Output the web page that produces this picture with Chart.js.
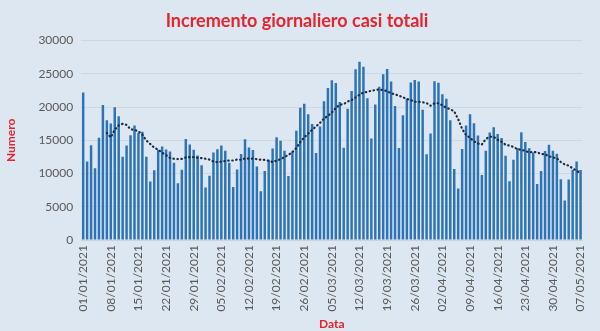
<!DOCTYPE html>
<html>
<head>
<meta charset="utf-8">
<script src="https://cdn.jsdelivr.net/npm/chart.js@4/dist/chart.umd.min.js"></script>
<style>
  html, body { margin: 0; padding: 0; background: #dde7f2; }
  #grafico { display: block; }
</style>
</head>
<body>
<canvas id="grafico" width="600" height="331"></canvas>
<script>
// nuovi casi giornalieri, 01/01/2021 - 07/05/2021
var casiGen = [22211, 11831, 14245, 10800, 15378, 20331, 18020, 17533, 19978, 18627, 12532, 14242, 15774, 17246, 16146, 16310,
  12545, 8824, 10497, 13571, 14078, 13633, 13331, 11629, 8562, 10593, 15204, 14372, 13574, 12715, 11252];
var casiFeb = [7925, 9660, 13189, 13659, 14218, 13442, 11641, 7970, 10630, 12956, 15146, 13908, 13532, 11068, 7351, 10386,
  12074, 13762, 15479, 14931, 13452, 9630, 13314, 16424, 19886, 20499, 18916, 17455];
var casiMar = [13114, 17083, 20884, 22865, 24036, 23641, 20765, 13902, 19749, 22409, 25673, 26824, 26062, 21315, 15267, 20396,
  23059, 24935, 25735, 23832, 20159, 13846, 18765, 21267, 23696, 24076, 23839, 19611, 12916, 16017, 23904];
var casiApr = [23649, 21932, 21261, 18025, 10680, 7767, 13708, 17221, 18938, 17567, 15746, 9789, 13447, 16168, 16974, 15943,
  15370, 12694, 8864, 12074, 13844, 16232, 14761, 13817, 13158, 8444, 10404, 13385, 14320, 13446];
var casiMag = [12965, 9148, 5948, 9116, 10585, 11807, 10554];

// media mobile 7 giorni (linea tratteggiata)
var mediaMobile = [null, null, null, null, null, null, 16117,
  15448, 16612, 17238, 17486, 17323, 16672, 16562, 16364, 15840, 14971, 14441, 13906, 13591, 13139, 12780, 12354, 12223,
  12186, 12200, 12433, 12475, 12466, 12378, 12325, 12234, 12100, 11812, 11711, 11803, 11906, 11962, 11968, 12107, 12074,
  12286, 12242, 12255, 12173, 12084, 12050, 11924, 11726, 11950, 12150, 12491, 12816, 13235, 13856, 14731, 15448, 16017,
  16589, 17087, 17625, 18262, 18688, 19193, 19868, 20341, 20454, 20835, 21052, 21454, 21852, 22198, 22276, 22471, 22564,
  22657, 22551, 22396, 22077, 21912, 21709, 21476, 21220, 21043, 20806, 20807, 20729, 20596, 20203, 20580, 20573, 20267,
  19899, 19672, 19353, 18174, 16717, 15799, 15371, 14844, 14518, 14391, 15202, 15554, 15518, 15091, 14777, 14341, 14209,
  14012, 13680, 13574, 13406, 13184, 13250, 13190, 12951, 12886, 12613, 12425, 12303, 11730, 11374, 11190, 10790, 10431, 10022];

var casi = casiGen.concat(casiFeb, casiMar, casiApr, casiMag);

// etichette date
var date = [];
var giorno = new Date(2021, 0, 1);
for (var i = 0; i < casi.length; i++) {
  var d = new Date(giorno.getTime() + i * 86400000);
  date.push(String(d.getDate()).padStart(2, '0') + '/' + String(d.getMonth() + 1).padStart(2, '0') + '/' + d.getFullYear());
}

var rosso = '#e3262e';
var grigio = '#595959';

var ctx = document.getElementById('grafico');
var myChart = new Chart(ctx,
{
  type: 'bar',
  data:
  {
    labels: date,
    datasets:
    [{
      type: 'line',
      label: 'Media mobile',
      data: mediaMobile,
      borderColor: '#1c2b3f',
      borderWidth: 2.2,
      borderDash: [0.5, 3.5],
      borderCapStyle: 'round',
      pointRadius: 0,
      fill: false,
      tension: 0,
      order: 0
    },
    {
      label: 'Casi',
      data: casi,
      backgroundColor: '#2e74b5',
      barPercentage: 0.7,
      categoryPercentage: 0.9,
      order: 1
    }]
  },
  options:
  {
    responsive: false,
    animation: false,
    layout: { padding: { left: 4, right: 10, top: 4, bottom: 0 } },
    plugins:
    {
      legend: { display: false },
      tooltip: { enabled: false },
      title:
      {
        display: true,
        text: 'Incremento giornaliero casi totali',
        color: rosso,
        font: { family: 'Lato', size: 18, weight: 'bold' },
        padding: { top: 6, bottom: 9 }
      }
    },
    scales:
    {
      x:
      {
        grid: { display: false, drawTicks: false },
        border: { color: '#c9d3de' },
        ticks:
        {
          autoSkip: false,
          maxRotation: 90,
          minRotation: 90,
          color: grigio,
          font: { family: 'Lato', size: 12 },
          padding: 5,
          callback: function(v, i) { return i % 7 === 0 ? date[i] : null; }
        },
        title:
        {
          display: true,
          text: 'Data',
          color: rosso,
          font: { family: 'Lato', size: 12, weight: 'bold' },
          padding: { top: 0, bottom: 0 }
        }
      },
      y:
      {
        min: 0,
        max: 30000,
        grid: { color: '#cdd7e2', drawTicks: false },
        border: { display: false },
        ticks:
        {
          stepSize: 5000,
          color: grigio,
          font: { family: 'Lato', size: 12 },
          padding: 8,
          callback: function(v) { return String(v); }
        },
        title:
        {
          display: true,
          text: 'Numero',
          color: rosso,
          font: { family: 'Lato', size: 12, weight: 'bold' },
          padding: { top: 0, bottom: 12 }
        }
      }
    }
  }
});
</script>
</body>
</html>
